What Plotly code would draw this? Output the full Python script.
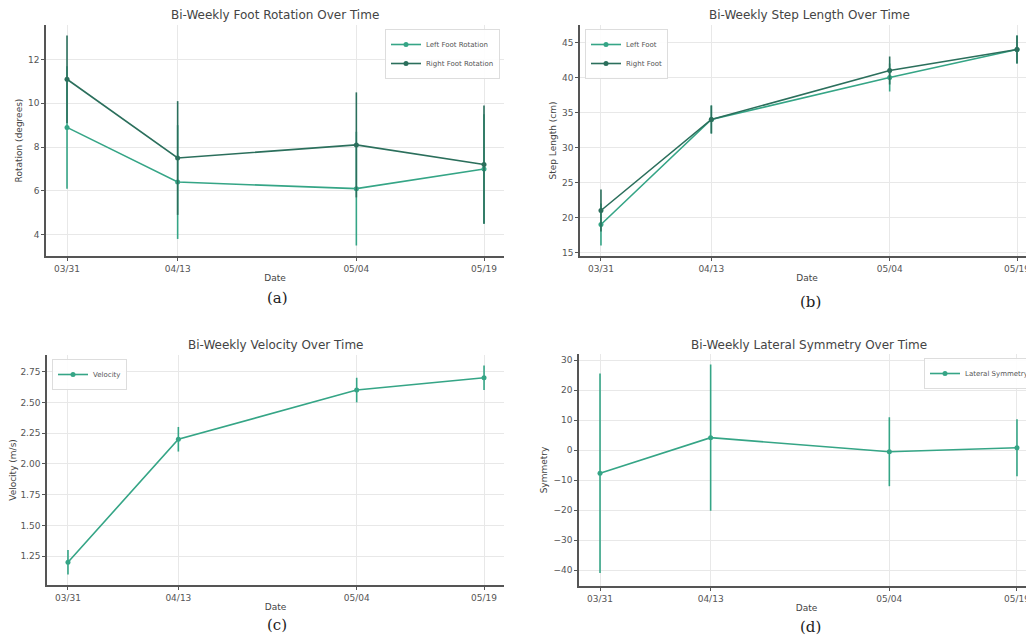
import plotly.graph_objects as go
from datetime import datetime, timedelta

dates = ["2024-03-31", "2024-04-13", "2024-05-04", "2024-05-19"]
tick_labels = ["03/31", "04/13", "05/04", "05/19"]

left_rot = [8.9, 6.4, 6.1, 7.0]
left_rot_err = [2.8, 2.6, 2.6, 2.5]
right_rot = [11.1, 7.5, 8.1, 7.2]
right_rot_err = [2.0, 2.6, 2.4, 2.7]

left_step = [19, 34, 40, 44]
left_step_err = [3, 2, 2, 2]
right_step = [21, 34, 41, 44]
right_step_err = [3, 2, 2, 2]

velocity = [1.2, 2.2, 2.6, 2.7]
velocity_err = [0.1, 0.1, 0.1, 0.1]

symmetry = [-7.7, 4.2, -0.5, 0.8]
symmetry_err = [33.3, 24.4, 11.5, 9.5]

C_LIGHT = "#35a586"
C_DARK = "#2b6f5c"

# page body has an 8px margin; figure sized to fill the window exactly
OFF = 8
W, H = 1034 - OFF, 641 - OFF

def fx(px):
    return (px - OFF) / W

def fy(py):
    return 1 - (py - OFF) / H

d0 = datetime(2024, 3, 31)
d1 = datetime(2024, 5, 19)

def xr(left_days, right_days):
    return [(d0 - timedelta(days=left_days)).strftime("%Y-%m-%d %H:%M"),
            (d1 + timedelta(days=right_days)).strftime("%Y-%m-%d %H:%M")]

fig = go.Figure()

def add(x_ax, y_ax, leg, name, y, err, color):
    fig.add_trace(go.Scatter(
        x=dates, y=y, name=name, mode="lines+markers",
        line=dict(color=color, width=1.6),
        marker=dict(color=color, size=5),
        error_y=dict(type="data", array=err, visible=True, color=color, thickness=1.6, width=0),
        xaxis=x_ax, yaxis=y_ax, legend=leg))

add("x", "y", "legend", "Left Foot Rotation", left_rot, left_rot_err, C_LIGHT)
add("x", "y", "legend", "Right Foot Rotation", right_rot, right_rot_err, C_DARK)
add("x2", "y2", "legend2", "Left Foot", left_step, left_step_err, C_LIGHT)
add("x2", "y2", "legend2", "Right Foot", right_step, right_step_err, C_DARK)
add("x3", "y3", "legend3", "Velocity", velocity, velocity_err, C_LIGHT)
add("x4", "y4", "legend4", "Lateral Symmetry", symmetry, symmetry_err, C_LIGHT)

tickfont = dict(family="DejaVu Sans", size=9, color="#555")
axfont = dict(family="DejaVu Sans", size=9, color="#444")

def xaxis(dom, rng, anchor):
    return dict(domain=dom, range=rng, type="date", anchor=anchor, automargin=False,
                tickvals=dates, ticktext=tick_labels, tickfont=tickfont,
                showgrid=True, gridcolor="#e8e8e8", gridwidth=1,
                showline=True, linecolor="#555", linewidth=1.5,
                ticks="outside", ticklen=3, tickcolor="#555",
                title=dict(text="Date", font=axfont, standoff=2), zeroline=False)

def yaxis(dom, rng, anchor, title, dtick, fmt=None):
    d = dict(domain=dom, range=rng, anchor=anchor, dtick=dtick, tickfont=tickfont,
             automargin=False,
             showgrid=True, gridcolor="#e8e8e8", gridwidth=1,
             showline=True, linecolor="#555", linewidth=1.5,
             ticks="outside", ticklen=3, tickcolor="#555",
             title=dict(text=title, font=axfont, standoff=4), zeroline=False)
    if fmt:
        d["tickformat"] = fmt
    return d

fig.update_layout(
    width=W, height=H,
    margin=dict(l=0, r=0, t=0, b=0, autoexpand=False),
    paper_bgcolor="white", plot_bgcolor="white",
    showlegend=True,
    xaxis=xaxis([fx(46), fx(504)], xr(2.47, 2.35), "y"),
    yaxis=yaxis([fy(256), fy(25)], [3.02, 13.58], "x", "Rotation (degrees)", 2),
    xaxis2=xaxis([fx(580), 1.0], xr(2.47, 2.0), "y2"),
    yaxis2=yaxis([fy(256), fy(25)], [14.5, 47.5], "x2", "Step Length (cm)", 5),
    xaxis3=xaxis([fx(47), fx(504)], xr(2.47, 2.35), "y3"),
    yaxis3=yaxis([fy(585), fy(355)], [1.015, 2.885], "x3", "Velocity (m/s)", 0.25, ".2f"),
    xaxis4=xaxis([fx(579), 1.0], xr(2.47, 2.0), "y4"),
    yaxis4=yaxis([fy(586), fy(354)], [-45.3, 32.1], "x4", "Symmetry", 10),
)

legstyle = dict(font=dict(family="DejaVu Sans", size=7, color="#555"),
                bgcolor="rgba(255,255,255,0.9)", bordercolor="#ddd", borderwidth=1,
                tracegroupgap=0, itemwidth=30)
fig.update_layout(
    legend=dict(x=fx(500), y=fy(29), xanchor="right", yanchor="top", **legstyle),
    legend2=dict(x=fx(585), y=fy(29), xanchor="left", yanchor="top", **legstyle),
    legend3=dict(x=fx(52), y=fy(359), xanchor="left", yanchor="top", **legstyle),
    legend4=dict(x=1.0, y=fy(358), xanchor="right", yanchor="top", **legstyle),
)

titles = [("Bi-Weekly Foot Rotation Over Time", 275, 15),
          ("Bi-Weekly Step Length Over Time", 809, 15),
          ("Bi-Weekly Velocity Over Time", 275, 345),
          ("Bi-Weekly Lateral Symmetry Over Time", 809, 345)]
for t, x, y in titles:
    fig.add_annotation(text=t, x=fx(x), y=fy(y), xref="paper", yref="paper",
                       showarrow=False, xanchor="center", yanchor="middle",
                       font=dict(family="DejaVu Sans", size=12, color="#444"))

captions = [("(a)", 277, 298), ("(b)", 810, 302), ("(c)", 277, 625), ("(d)", 810, 627)]
for t, x, y in captions:
    fig.add_annotation(text=t, x=fx(x), y=fy(y), xref="paper", yref="paper",
                       showarrow=False, xanchor="center", yanchor="middle",
                       font=dict(family="DejaVu Serif", size=15, color="#222"))

fig.write_html("out.html")
